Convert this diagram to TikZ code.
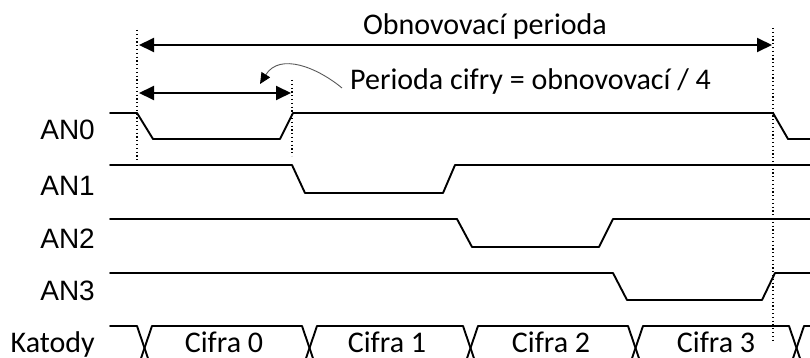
\documentclass[tikz,border=0pt]{standalone}
\usepackage{fontspec}
\setmainfont{Carlito}
\newfontfamily\arialfont{Liberation Sans}
\usetikzlibrary{arrows.meta}

\begin{document}
\begin{tikzpicture}[x=1pt,y=-1pt,
  sig/.style={line width=1.9pt, line join=round, line cap=round},
  guide/.style={line width=1.3pt, dash pattern=on 1.2pt off 2.6pt},
  span/.style={line width=1.9pt, {Triangle[length=15pt,width=14pt]}-{Triangle[length=15pt,width=14pt]}},
  hint/.style={line width=0.9pt, draw=black!65, -{Triangle[length=11pt,width=10pt,color=black]}},
  chan/.style={font=\arialfont\fontsize{28}{30}\selectfont, anchor=base east, inner sep=0pt},
  txt/.style={font=\fontsize{30}{34}\selectfont, inner sep=0pt},
]
\useasboundingbox (0,0) rectangle (810,358);
\clip (0,0) rectangle (810,358);

% channel labels
\node[chan] (an0) at (95,140) {AN0};
\node[chan] (an1) at (95,195) {AN1};
\node[chan] (an2) at (95,248) {AN2};
\node[chan] (an3) at (95,300) {AN3};
\node[txt, anchor=base east] (kat) at (95,352) {Katody};

% anode waveforms
\draw[sig] (110,113) -- (137,113) -- (153,139) -- (280,139) -- (293,113)
  -- (773,113) -- (788,139) -- (812,139);
\draw[sig] (110,165) -- (292,165) -- (305,193) -- (443,193) -- (455,165) -- (812,165);
\draw[sig] (110,219) -- (457,219) -- (472,247) -- (599,247) -- (613,219) -- (812,219);
\draw[sig] (110,273) -- (613,273) -- (627,300) -- (762,300) -- (775,273) -- (812,273);

% cathode bus with crossovers
\draw[sig] (110,326) -- (137,326) -- (152,370) -- (302,370) -- (317,326) -- (463,326)
  -- (478,370) -- (628,370) -- (643,326) -- (789,326) -- (804,370) -- (812,370);
\draw[sig] (110,370) -- (137,370) -- (152,326) -- (302,326) -- (317,370) -- (463,370)
  -- (478,326) -- (628,326) -- (643,370) -- (789,370) -- (804,326) -- (812,326);

\node[txt, anchor=base] (c0) at (224,352) {Cifra 0};
\node[txt, anchor=base] (c1) at (387,352) {Cifra 1};
\node[txt, anchor=base] (c2) at (551,352) {Cifra 2};
\node[txt, anchor=base] (c3) at (716,352) {Cifra 3};

% timing guides
\coordinate (gA1) at (137,30);  \coordinate (gA2) at (137,160);
\coordinate (gB1) at (292,80);  \coordinate (gB2) at (292,156);
\coordinate (gC1) at (773,28);  \coordinate (gC2) at (773,342);
\draw[guide] (gA1) -- (gA2);
\draw[guide] (gB1) -- (gB2);
\draw[guide] (gC1) -- (gC2);

% period spans
\coordinate (pL) at (139,45);  \coordinate (pR) at (772,45);
\coordinate (dL) at (139,93);  \coordinate (dR) at (291,93);
\draw[span] (pL) -- (pR);
\draw[span] (dL) -- (dR);

\node[txt, anchor=base] (refresh) at (485,35) {Obnovovací perioda};
\node[txt, anchor=base west] (digit) at (350,90) {Perioda cifry = obnovovací / 4};

% pointer from the note to the digit span
\coordinate (hS) at (342,88);
\coordinate (hT) at (260,84);
\draw[hint] (hS) .. controls (318,68) and (280,52) .. (hT);
\end{tikzpicture}
\end{document}
